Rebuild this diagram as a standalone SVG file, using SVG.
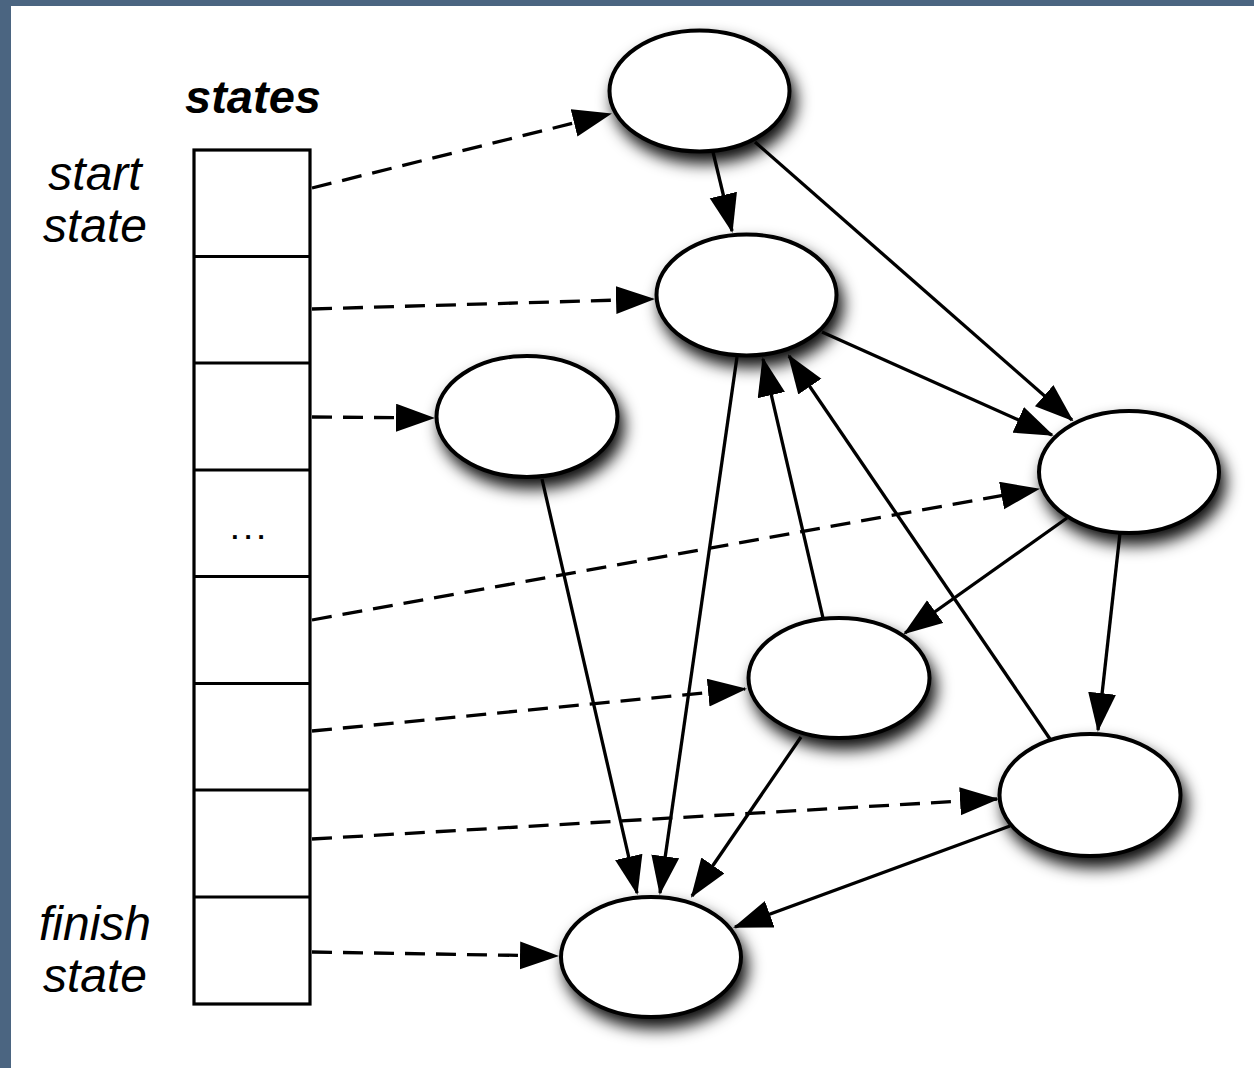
<svg xmlns="http://www.w3.org/2000/svg" width="1254" height="1068" viewBox="0 0 1254 1068">
  <style>
    .frame { fill: #4b6581; }
    .cell { fill: #ffffff; stroke: #000000; stroke-width: 3.2; }
    .node { fill: #ffffff; stroke: #000000; stroke-width: 4; filter: url(#shadow); }
    .edge { fill: none; stroke: #000000; stroke-width: 3.3; marker-end: url(#head); }
    .ptr { stroke-dasharray: 20 11; }
    .lbl { font-family: "Liberation Sans", Arial, sans-serif; font-style: italic; font-size: 48px; fill: #000000; text-anchor: middle; }
    .title { font-weight: bold; font-size: 47px; }
  </style>
  <defs>
    <filter id="shadow" x="-30%" y="-30%" width="170%" height="200%">
      <feDropShadow dx="5" dy="10" stdDeviation="8" flood-color="#000000" flood-opacity="0.95"/>
    </filter>
    <marker id="head" markerUnits="userSpaceOnUse" markerWidth="40" markerHeight="30" viewBox="0 0 40 30" refX="37" refY="14" orient="auto">
      <path d="M0,0 L39,14 L0,28 z" fill="#000000"/>
    </marker>
  </defs>

  <!-- page background and frame edges -->
  <rect x="0" y="0" width="1254" height="1068" fill="#ffffff"/>
  <rect class="frame" x="0" y="0" width="1254" height="6"/>
  <rect class="frame" x="0" y="0" width="11" height="1068"/>

  <!-- state array -->
  <g id="state-array">
    <text class="lbl title" x="253" y="113">states</text>
    <rect class="cell" x="194" y="150" width="116" height="854"/>
    <line class="cell" x1="194" y1="256.5" x2="310" y2="256.5"/>
    <line class="cell" x1="194" y1="363" x2="310" y2="363"/>
    <line class="cell" x1="194" y1="470" x2="310" y2="470"/>
    <line class="cell" x1="194" y1="576.5" x2="310" y2="576.5"/>
    <line class="cell" x1="194" y1="683.5" x2="310" y2="683.5"/>
    <line class="cell" x1="194" y1="790" x2="310" y2="790"/>
    <line class="cell" x1="194" y1="897" x2="310" y2="897"/>
    <text x="251" y="539" font-family="Liberation Sans, Arial, sans-serif" font-weight="bold" font-size="26" letter-spacing="6" text-anchor="middle">...</text>
    <text class="lbl" x="95" y="190">start</text>
    <text class="lbl" x="95" y="242">state</text>
    <text class="lbl" x="95" y="940">finish</text>
    <text class="lbl" x="95" y="992">state</text>
  </g>

  <!-- state nodes -->
  <g id="n1"><ellipse class="node" cx="699.5" cy="91" rx="90" ry="60.5"/></g>
  <g id="n2"><ellipse class="node" cx="746.5" cy="295" rx="90" ry="60.5"/></g>
  <g id="n3"><ellipse class="node" cx="527" cy="416.5" rx="90.5" ry="60.5"/></g>
  <g id="n4"><ellipse class="node" cx="1129" cy="472" rx="90" ry="61"/></g>
  <g id="n5"><ellipse class="node" cx="839" cy="678" rx="90.5" ry="60"/></g>
  <g id="n6"><ellipse class="node" cx="1090" cy="795" rx="90.5" ry="61"/></g>
  <g id="n7"><ellipse class="node" cx="651" cy="957" rx="90" ry="60"/></g>

  <!-- connectors -->
  <g id="connectors">
    <!-- pointers from array slots -->
    <line class="edge ptr" x1="312" y1="188" x2="610" y2="114"/>
    <line class="edge ptr" x1="312" y1="309" x2="653" y2="299"/>
    <line class="edge ptr" x1="312" y1="417" x2="433" y2="418"/>
    <line class="edge ptr" x1="312" y1="620" x2="1038" y2="489"/>
    <line class="edge ptr" x1="312" y1="731" x2="745" y2="689"/>
    <line class="edge ptr" x1="312" y1="839" x2="997" y2="799"/>
    <line class="edge ptr" x1="312" y1="952" x2="557" y2="956"/>
    <!-- transitions -->
    <line class="edge" x1="713" y1="152" x2="732" y2="231"/>
    <line class="edge" x1="755" y1="142" x2="1072" y2="420"/>
    <line class="edge" x1="822" y1="332" x2="1052" y2="435"/>
    <line class="edge" x1="737" y1="357" x2="660" y2="893"/>
    <line class="edge" x1="542" y1="479" x2="637" y2="893"/>
    <line class="edge" x1="823" y1="618" x2="763" y2="359"/>
    <line class="edge" x1="1050" y1="739" x2="789" y2="356"/>
    <line class="edge" x1="1067" y1="518" x2="905" y2="633"/>
    <line class="edge" x1="1120" y1="533" x2="1098" y2="730"/>
    <line class="edge" x1="801" y1="737" x2="692" y2="896"/>
    <line class="edge" x1="1010" y1="826" x2="735" y2="927"/>
  </g>
</svg>
